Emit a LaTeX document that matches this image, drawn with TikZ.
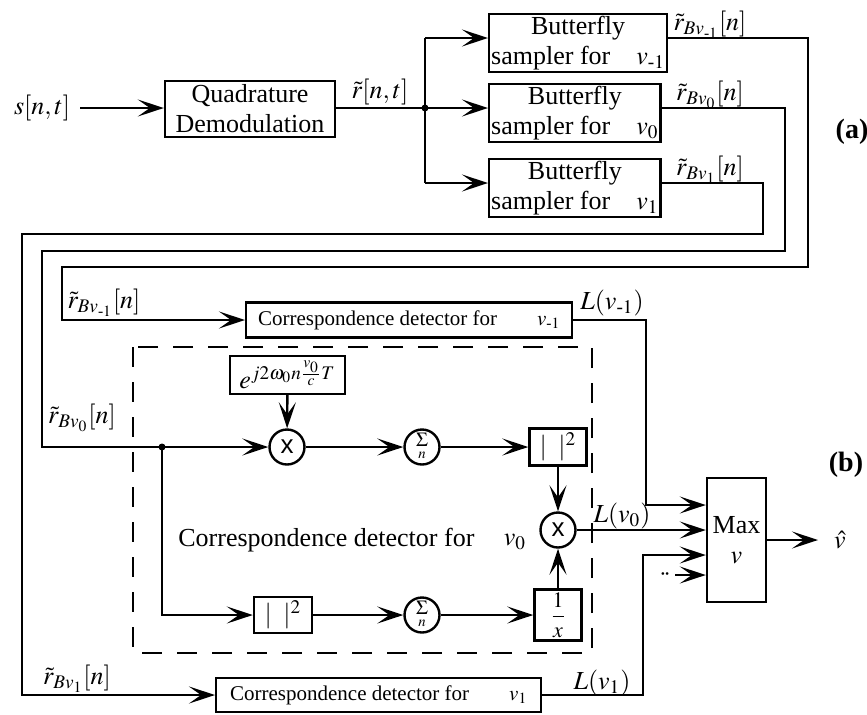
\documentclass[tikz,border=0pt]{standalone}
\usepackage{amsmath}
\usepackage{mathptmx}
\usepackage[no-math]{fontspec}
\setmainfont{Liberation Serif}
\newfontfamily\opfont{Liberation Sans}
\usetikzlibrary{arrows.meta}
\tikzset{every picture/.style={x=0.5pt,y=-0.5pt}}
\tikzset{
  sig/.style={line width=1.2pt},
  arr/.style={sig,-{Stealth[length=13pt,width=8.5pt,inset=6pt]}},
  blockbox/.style={draw,line width=1.2pt,inner sep=1pt,align=center},
  opcircle/.style={draw,circle,line width=1.2pt,inner sep=0pt,minimum size=17.5pt},
  lbl/.style={inner sep=0pt},
  smallbox/.style={blockbox,font=\fontsize{10.5}{12}\selectfont}
}
\newcommand{\mone}{\text{-}1}
\newcommand{\multx}{{\opfont\fontsize{13}{13}\selectfont x}}
\newcommand{\sumn}{{\fontsize{10}{10}\selectfont$\mathop{\Sigma}\limits_{n}$}}

\begin{document}
\begin{tikzpicture}[font=\fontsize{13}{15}\selectfont]
    \useasboundingbox (0,0) rectangle (867,714);

    % (a) front end
    \node[lbl] (sin) at (42,108) {$s[n,t]$};
    \node[blockbox,minimum width=85pt,minimum height=28pt] (qd) at (250,109) {Quadrature\\Demodulation};
    \coordinate (jn) at (425,108);
    \draw[arr] ([xshift=5pt]sin.east |- jn) -- (qd.west |- jn);
    \draw[sig] (qd.east |- jn) -- (jn);
    \node[lbl] (rnt) at (380,92) {$\tilde r[n,t]$};
    \draw[sig] (425,38) -- (425,183);
    \fill (jn) circle (3.5);

    % Butterfly samplers
    \foreach \nm/\yy/\sub in {bm/38/\mone, bz/108/0, bp/183/1} {
        \node[blockbox,minimum width=85pt,minimum height=29pt,anchor=west] (\nm) at (488,\yy+5) {Butterfly\\sampler for\quad $v_{\sub}$};
        \draw[arr] (425,\yy) -- ([yshift=2.5pt]\nm.west);
        \node[lbl] (r\nm) at (710,\yy-13) {$\tilde r_{Bv_{\sub}}[n]$};
    }
    \node[lbl,font={\fontsize{14}{16}\selectfont\bfseries}] (parta) at (852,132) {(a)};

    % (b) correspondence detectors
    \node[smallbox,minimum width=163pt,minimum height=17.5pt,anchor=west] (cdm) at (245,320) {Correspondence detector for\hspace{20pt}$v_{\mone}$};
    \node[smallbox,minimum width=162.5pt,minimum height=17pt,anchor=west] (cdp) at (215,695) {Correspondence detector for\hspace{20pt}$v_1$};

    % Routing from (a) to (b)
    \coordinate (split) at (162,447);
    \draw[arr] ([yshift=2.5pt]bm.east) -| (808,267) -| (62,320) -- (cdm.west);
    \draw[sig] ([yshift=2.5pt]bz.east) -| (785,251) -| (42,447) -- (split);
    \draw[arr] ([yshift=2.5pt]bp.east) -| (763,234) -| (22,695) -- (cdp.west);
    \node[lbl] (lbm) at (104,303) {$\tilde r_{Bv_{\mone}}[n]$};
    \node[lbl] (lbz) at (82,418) {$\tilde r_{Bv_0}[n]$};
    \node[lbl] (lbp) at (77,679) {$\tilde r_{Bv_1}[n]$};

    % Detector for v0 (dashed)
    \draw[sig,dash pattern=on 10pt off 7.5pt] (133,347) rectangle (592,653);
    \node[blockbox,minimum width=57.5pt,minimum height=19pt] (ebox) at (287.5,375) {$e^{j2\omega_0 n\frac{v_0}{c}T}$};
    \node[opcircle] (mula) at (287,447) {\multx};
    \node[opcircle] (suma) at (422,447) {\sumn};
    \node[blockbox,minimum width=28.5pt,minimum height=18.5pt] (sqa) at (558,447) {$|\;\;|^2$};
    \node[opcircle] (mulb) at (558,530) {\multx};
    \node[blockbox,inner sep=0pt,minimum width=23.5pt,minimum height=25.5pt,font=\fontsize{11}{12}\selectfont] (inv) at (558,615) {$\dfrac{1}{x}$};
    \node[opcircle] (sumb) at (422,615) {\sumn};
    \node[blockbox,minimum width=29pt,minimum height=18pt] (sqb) at (283,615) {$|\;\;|^2$};
    \node[lbl,anchor=west] (cdzl) at (178,540) {Correspondence detector for};
    \node[lbl] (cdzv) at (515,542) {$v_0$};

    \draw[arr] (ebox) -- (mula);
    \draw[arr] (split) -- (mula);
    \draw[arr] (mula) -- (suma);
    \draw[arr] (suma) -- (sqa);
    \draw[arr] (sqa) -- (mulb);
    \draw[arr] (inv) -- (mulb);
    \draw[arr] (split) |- (sqb.west);
    \draw[arr] (sqb) -- (sumb);
    \draw[arr] (sumb) -- (inv);
    \fill (split) circle (3.5);

    % Max selector
    \node[blockbox,minimum width=29.5pt,minimum height=62pt] (mx) at (736.5,540) {Max\\$v$};
    \draw[arr] (cdm.east) -| (646,505) -- ([yshift=17.5pt]mx.west);
    \draw[arr] (mulb) -- (mulb -| mx.west);
    \draw[arr] (cdp.east) -| (643,555) -- ([yshift=-7.5pt]mx.west);
    \node[lbl] (dots) at (665,575) {$\boldsymbol{\cdot}\!\boldsymbol{\cdot}$};
    \draw[arr] ([xshift=2pt]dots.east) -- ([yshift=-17.5pt]mx.west);
    \node[lbl] (vhat) at (840,540) {$\hat v$};
    \draw[arr] (mx.east) -- (818,540);
    \node[lbl] (lm) at (612,303) {$L(v_{\mone})$};
    \node[lbl] (lz) at (622,516) {$L(v_0)$};
    \node[lbl] (lp) at (602,683) {$L(v_1)$};
    \node[lbl,font={\fontsize{14}{16}\selectfont\bfseries}] (partb) at (846,465) {(b)};
\end{tikzpicture}
\end{document}
